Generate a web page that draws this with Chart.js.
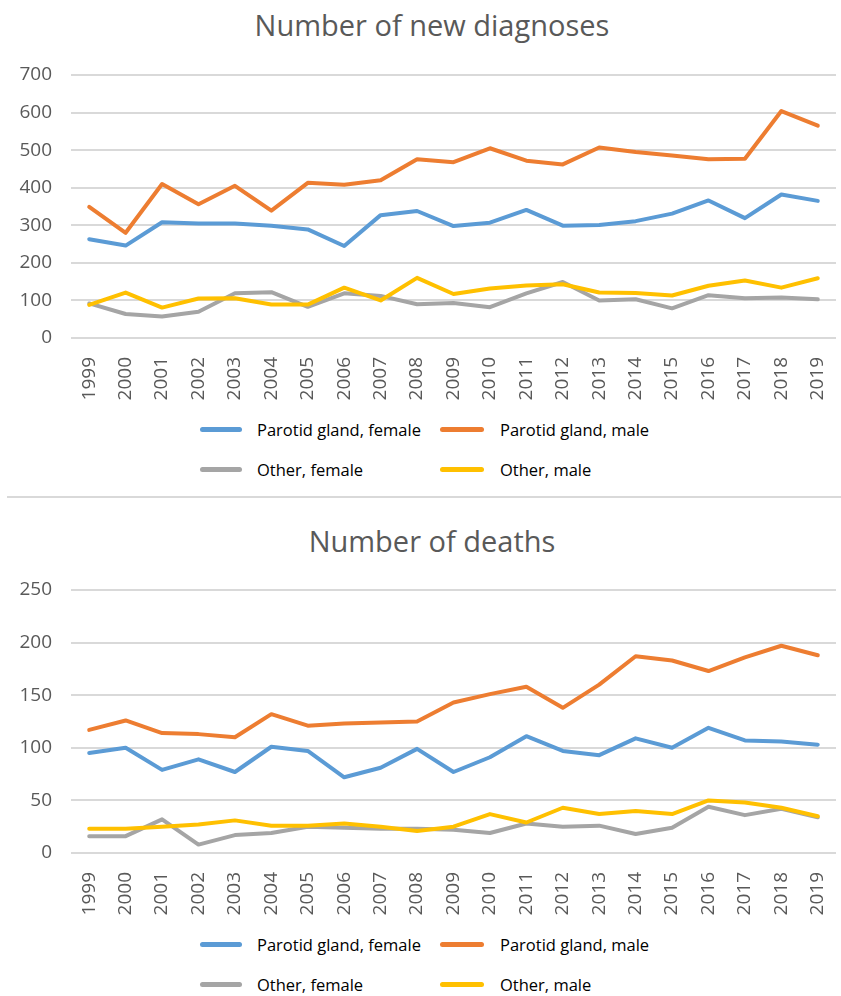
<!DOCTYPE html>
<html>
<head>
<meta charset="utf-8">
<script src="https://cdn.jsdelivr.net/npm/chart.js@4.4.1/dist/chart.umd.min.js"></script>
<style>
  body { margin: 0; background: #fff; font-family: 'Open Sans', sans-serif; }
  #page { position: relative; width: 841px; height: 996px; overflow: hidden; }
  canvas { position: absolute; left: 0; }
  .title { position: absolute; left: 0; width: 864px; text-align: center; font-size: 29px; line-height: 35px; color: #595959; white-space: nowrap; }
  .item { position: absolute; height: 24px; display: flex; align-items: center; font-size: 16.5px; color: #000; white-space: nowrap; }
  .swatch { height: 5px; border-radius: 2.5px; }
  .sep { position: absolute; left: 7px; right: 0; top: 496px; height: 2px; background: #d9d9d9; }
</style>
</head>
<body>
<div id="page">
  <div class="title" id="title_diag" style="top:7px"></div>
  <canvas id="chart_diag" width="841" height="410" style="top:0"></canvas>
  <div id="legend_diag"></div>
  <div class="sep"></div>
  <div class="title" id="title_deaths" style="top:523px"></div>
  <canvas id="chart_deaths" width="841" height="410" style="top:515px"></canvas>
  <div id="legend_deaths"></div>
</div>
<script>
// Anos (eixo x)
const years = ['1999', '2000', '2001', '2002', '2003', '2004', '2005', '2006', '2007', '2008',
  '2009', '2010', '2011', '2012', '2013', '2014', '2015', '2016', '2017', '2018', '2019'];

const seriesNames = ['Parotid gland, female', 'Parotid gland, male', 'Other, female', 'Other, male'];
const seriesColors = ['#5B9BD5', '#ED7D31', '#A5A5A5', '#FFC000'];

// Number of new diagnoses
const diagParotidFemale = [263, 246, 308, 305, 305, 299, 289, 245, 327, 338, 298, 307, 341, 299, 301, 311, 331, 366, 319, 382, 365];
const diagParotidMale = [349, 280, 410, 356, 405, 339, 413, 408, 420, 476, 468, 505, 472, 462, 507, 495, 486, 476, 477, 604, 565];
const diagOtherFemale = [92, 64, 57, 70, 119, 122, 83, 119, 112, 90, 93, 82, 119, 149, 100, 103, 79, 114, 106, 108, 103];
const diagOtherMale = [88, 121, 81, 105, 106, 89, 89, 134, 100, 160, 117, 132, 140, 143, 121, 120, 113, 139, 153, 134, 159];

// Number of deaths
const deathParotidFemale = [95, 100, 79, 89, 77, 101, 97, 72, 81, 99, 77, 91, 111, 97, 93, 109, 100, 119, 107, 106, 103];
const deathParotidMale = [117, 126, 114, 113, 110, 132, 121, 123, 124, 125, 143, 151, 158, 138, 160, 187, 183, 173, 186, 197, 188];
const deathOtherFemale = [16, 16, 32, 8, 17, 19, 25, 24, 23, 23, 22, 19, 28, 25, 26, 18, 24, 44, 36, 42, 34];
const deathOtherMale = [23, 23, 25, 27, 31, 26, 26, 28, 25, 21, 25, 37, 29, 43, 37, 40, 37, 50, 48, 43, 35];

const FONT = 'Open Sans';
const TEXT_GRAY = '#595959';

function buildChart(canvasId, title, seriesData, yMax, yStep) {
  document.getElementById(canvasId.replace('chart_', 'title_')).textContent = title;

  const datasets = seriesData.map((values, i) => ({
    label: seriesNames[i],
    data: values,
    borderColor: seriesColors[i],
    backgroundColor: seriesColors[i],
    borderWidth: 4,
    pointRadius: 0,
    tension: 0,
    borderCapStyle: 'round',
    borderJoinStyle: 'round',
    order: seriesData.length - i
  }));

  return new Chart(document.getElementById(canvasId), {
    type: 'line',
    data: { labels: years, datasets },
    options: {
      responsive: false,
      animation: false,
      layout: { padding: { left: 0, right: 5, top: 75, bottom: 0 } },
      plugins: {
        legend: { display: false },
        tooltip: { enabled: false },
        title: { display: false }
      },
      scales: {
        x: {
          offset: true,
          grid: { display: false },
          border: { display: false },
          ticks: {
            color: TEXT_GRAY,
            font: { family: FONT, size: 19 },
            minRotation: 90,
            maxRotation: 90,
            autoSkip: false,
            padding: 11
          },
          afterFit(axis) {
            axis.height = 72;
            axis.paddingLeft = 0;
            axis.paddingRight = 0;
          }
        },
        y: {
          min: 0,
          max: yMax,
          ticks: {
            stepSize: yStep,
            color: TEXT_GRAY,
            font: { family: FONT, size: 19 },
            padding: 19
          },
          grid: { color: '#d9d9d9', lineWidth: 2, drawTicks: false },
          border: { display: false },
          afterFit(axis) { axis.width = 71; }
        }
      }
    }
  });
}

// Legenda em HTML (duas linhas, duas colunas)
function buildLegend(containerId, topOffset) {
  const el = document.getElementById(containerId);
  const cols = [
    { lineX: 200, lineW: 42, textX: 257 },
    { lineX: 440, lineW: 44, textX: 500 }
  ];
  const rows = [429, 469];
  seriesNames.forEach((name, i) => {
    const col = cols[i % 2];
    const rowY = rows[Math.floor(i / 2)] + topOffset;
    const item = document.createElement('div');
    item.className = 'item';
    item.style.left = col.lineX + 'px';
    item.style.top = (rowY - 12) + 'px';
    item.innerHTML = `<span class="swatch" style="width:${col.lineW}px;background:${seriesColors[i]};margin-right:${col.textX - col.lineX - col.lineW}px"></span><span>${name}</span>`;
    el.appendChild(item);
  });
}

buildChart('chart_diag', 'Number of new diagnoses',
  [diagParotidFemale, diagParotidMale, diagOtherFemale, diagOtherMale], 700, 100);
buildChart('chart_deaths', 'Number of deaths',
  [deathParotidFemale, deathParotidMale, deathOtherFemale, deathOtherMale], 250, 50);

buildLegend('legend_diag', 0);
buildLegend('legend_deaths', 515);
</script>
</body>
</html>
